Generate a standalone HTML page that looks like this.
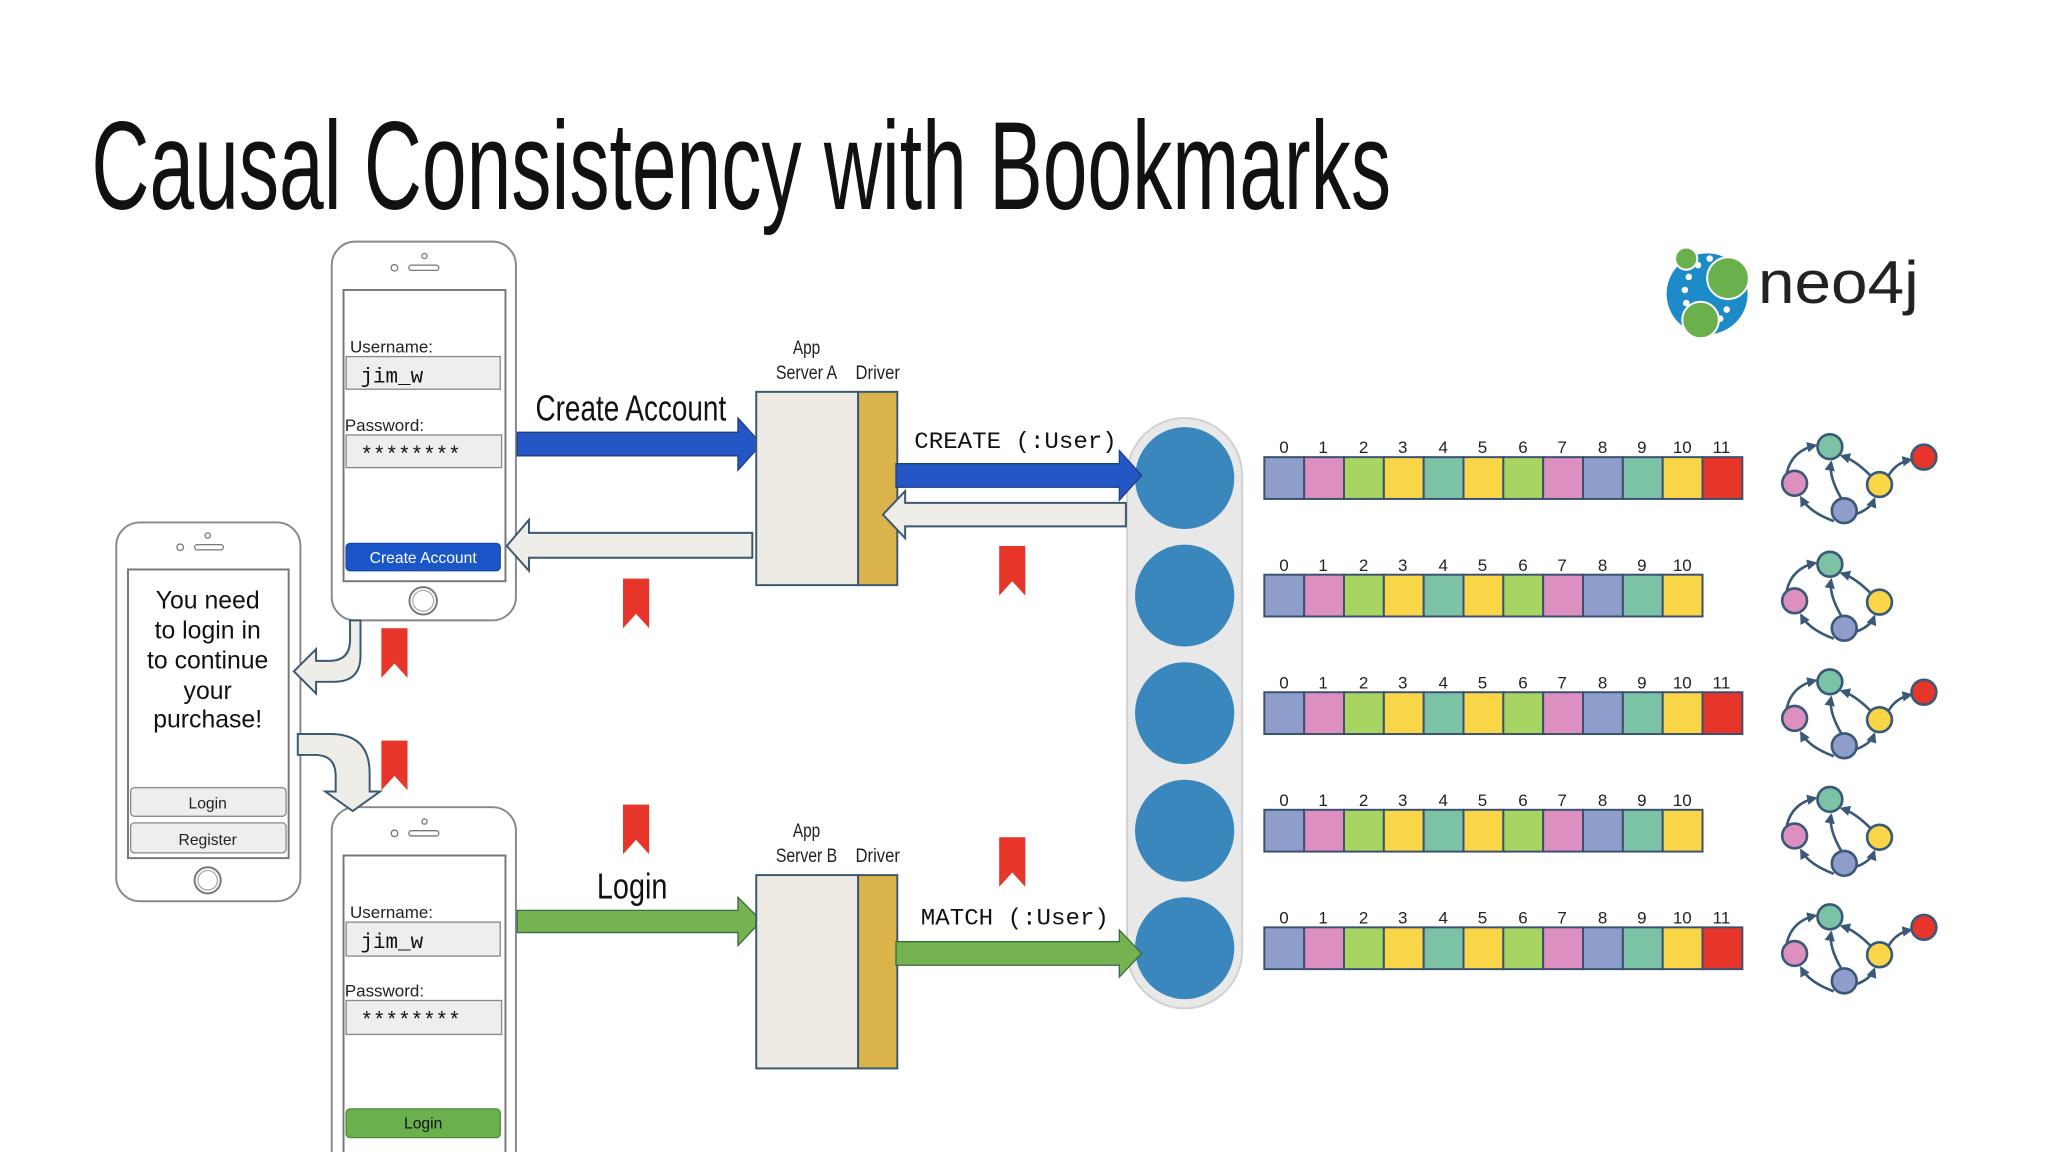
<!DOCTYPE html>
<html><head><meta charset="utf-8"><style>
html,body{margin:0;padding:0;background:#fff;width:2048px;height:1152px;overflow:hidden}
svg{display:block}
.c{font-family:"Liberation Sans Narrow","Liberation Sans",sans-serif}
.s{font-family:"Liberation Sans",sans-serif}
.m{font-family:"Liberation Mono",monospace}
.n{font-family:"Liberation Sans Narrow","Liberation Sans",sans-serif;font-size:13px;fill:#222;text-anchor:middle}
</style></head><body>
<svg width="2048" height="1152" viewBox="0 0 1568 882" xmlns="http://www.w3.org/2000/svg">
<defs>
<g id="bm"><path d="M0 0h20v38l-10-11l-10 11z" fill="#e8352a"/></g>
<marker id="ah" viewBox="0 0 10 10" refX="8" refY="5" markerWidth="4" markerHeight="4" orient="auto"><path d="M0 0L10 5L0 10z" fill="#3a5878"/></marker>
<g id="gr" stroke="#3a5878" stroke-width="2" fill="none">
<path d="M1368 362 Q1372 345 1390 341" marker-end="url(#ah)"/><path d="M1404 399 Q1385 392 1379 381" marker-end="url(#ah)"/>
<path d="M1420 394 Q1432 390 1435 382" marker-end="url(#ah)"/><path d="M1432 364 Q1420 352 1410 349" marker-end="url(#ah)"/>
<path d="M1410 382 Q1400 365 1402 354" marker-end="url(#ah)"/>
<circle cx="1401" cy="342" r="9.5" fill="#7cc2a4"/><circle cx="1374" cy="370" r="9.5" fill="#dd8fc0"/>
<circle cx="1439" cy="371" r="9.5" fill="#f8d648"/><circle cx="1412" cy="391" r="9.5" fill="#8e9dc9"/>
</g>
<g id="red"><path d="M1446 364 Q1452 354 1463 352" stroke="#3a5878" stroke-width="2" fill="none" marker-end="url(#ah)"/><circle cx="1473" cy="350" r="9.5" fill="#e8352a" stroke="#3a5878" stroke-width="2"/></g>
<g id="row11" stroke="#3a5070" stroke-width="1.5">
<rect x="968" y="0" width="30.5" height="32" fill="#8e9dc9"/><rect x="998.5" y="0" width="30.5" height="32" fill="#dd8fc0"/>
<rect x="1029" y="0" width="30.5" height="32" fill="#a8d462"/><rect x="1059.5" y="0" width="30.5" height="32" fill="#f8d648"/>
<rect x="1090" y="0" width="30.5" height="32" fill="#7cc2a4"/><rect x="1120.5" y="0" width="30.5" height="32" fill="#f8d648"/>
<rect x="1151" y="0" width="30.5" height="32" fill="#a8d462"/><rect x="1181.5" y="0" width="30.5" height="32" fill="#dd8fc0"/>
<rect x="1212" y="0" width="30.5" height="32" fill="#8e9dc9"/><rect x="1242.5" y="0" width="30.5" height="32" fill="#7cc2a4"/>
<rect x="1273" y="0" width="30.5" height="32" fill="#f8d648"/>
</g>
<g id="row12"><use href="#row11"/><rect x="1303.5" y="0" width="30.5" height="32" fill="#e8352a" stroke="#3a5070" stroke-width="1.5"/></g>
</defs>

<text x="70" y="160" class="c" font-size="96" textLength="995" lengthAdjust="spacingAndGlyphs" fill="#111">Causal Consistency with Bookmarks</text>

<!-- neo4j logo -->
<circle cx="1307" cy="225" r="31" fill="#1c8bc8"/>
<g fill="#fff"><circle cx="1300" cy="203" r="2.5"/><circle cx="1293" cy="212" r="2.5"/><circle cx="1290" cy="222" r="2.5"/><circle cx="1291" cy="232" r="2.5"/><circle cx="1295" cy="241" r="2.5"/><circle cx="1322" cy="237" r="2.5"/><circle cx="1317" cy="244" r="2.5"/><circle cx="1309" cy="198" r="2.5"/></g>
<circle cx="1291" cy="198" r="8.5" fill="#6ab04c" stroke="#fff" stroke-width="1.5"/>
<circle cx="1323" cy="213" r="16" fill="#6ab04c" stroke="#fff" stroke-width="1.5"/>
<circle cx="1302" cy="245" r="14" fill="#6ab04c" stroke="#fff" stroke-width="1.5"/>
<text x="1346" y="232" class="s" font-size="46" textLength="123" lengthAdjust="spacingAndGlyphs" fill="#222">neo4j</text>

<!-- top phone -->
<rect x="254" y="185" width="141" height="290" rx="18" fill="#fff" stroke="#888" stroke-width="1.5"/>
<circle cx="325" cy="196" r="2" fill="none" stroke="#777"/><circle cx="302" cy="205" r="2.5" fill="none" stroke="#777"/>
<rect x="313" y="203" width="23" height="4" rx="2" fill="none" stroke="#777"/>
<rect x="263" y="222" width="124" height="223" fill="#fff" stroke="#777" stroke-width="1.5"/>
<text x="268" y="270" class="s" font-size="13" fill="#222">Username:</text>
<rect x="265" y="273" width="118" height="25" fill="#eee" stroke="#888"/>
<text x="276" y="293" class="m" font-size="16" fill="#111">jim_w</text>
<text x="264" y="330" class="s" font-size="13" fill="#222">Password:</text>
<rect x="265" y="333" width="119" height="25" fill="#eee" stroke="#888"/>
<text x="276" y="353" class="m" font-size="16" fill="#111">********</text>
<rect x="265" y="416" width="118" height="21" rx="3" fill="#1a56c8" stroke="#184aa0"/>
<text x="324" y="431" class="s" font-size="12" fill="#fff" text-anchor="middle">Create Account</text>
<circle cx="324" cy="460" r="10.5" fill="none" stroke="#777" stroke-width="1.5"/><circle cx="324" cy="460" r="8" fill="none" stroke="#aaa"/>

<!-- left phone -->
<rect x="89" y="400" width="141" height="290" rx="18" fill="#fff" stroke="#888" stroke-width="1.5"/>
<circle cx="159" cy="410" r="2" fill="none" stroke="#777"/><circle cx="138" cy="419" r="2.5" fill="none" stroke="#777"/>
<rect x="149" y="417" width="22" height="4" rx="2" fill="none" stroke="#777"/>
<rect x="98" y="436" width="123" height="221" fill="#fff" stroke="#777" stroke-width="1.5"/>
<g class="s" font-size="19" fill="#111" text-anchor="middle">
<text x="159" y="466">You need</text><text x="159" y="489">to login in</text><text x="159" y="512">to continue</text><text x="159" y="535">your</text><text x="159" y="557">purchase!</text></g>
<rect x="100" y="603" width="119" height="22" rx="3" fill="#eee" stroke="#888"/>
<text x="159" y="619" class="s" font-size="12" text-anchor="middle" fill="#222">Login</text>
<rect x="100" y="630" width="119" height="23" rx="3" fill="#eee" stroke="#888"/>
<text x="159" y="647" class="s" font-size="12" text-anchor="middle" fill="#222">Register</text>
<circle cx="159" cy="674" r="10" fill="none" stroke="#777" stroke-width="1.5"/><circle cx="159" cy="674" r="7.5" fill="none" stroke="#aaa"/>

<!-- bottom phone -->
<path d="M254 884V636a18 18 0 0 1 18-18h105a18 18 0 0 1 18 18V884" fill="#fff" stroke="#888" stroke-width="1.5"/>
<circle cx="325" cy="629" r="2" fill="none" stroke="#777"/><circle cx="302" cy="638" r="2.5" fill="none" stroke="#777"/>
<rect x="313" y="636" width="23" height="4" rx="2" fill="none" stroke="#777"/>
<path d="M263 884V655h124V884" fill="#fff" stroke="#777" stroke-width="1.5"/>
<text x="268" y="703" class="s" font-size="13" fill="#222">Username:</text>
<rect x="265" y="706" width="118" height="26" fill="#eee" stroke="#888"/>
<text x="276" y="726" class="m" font-size="16" fill="#111">jim_w</text>
<text x="264" y="763" class="s" font-size="13" fill="#222">Password:</text>
<rect x="265" y="766" width="119" height="26" fill="#eee" stroke="#888"/>
<text x="276" y="786" class="m" font-size="16" fill="#111">********</text>
<rect x="265" y="849" width="118" height="22" rx="3" fill="#6ab04c" stroke="#4f8a36"/>
<text x="324" y="864" class="s" font-size="12" fill="#111" text-anchor="middle">Login</text>

<!-- curved arrows -->
<path d="M268 475v15q0 16-16 16h-10v-9l-17 17l17 17v-9h14q20 0 20-20v-27z" fill="#eeede8" stroke="#3a5870" stroke-width="1.5"/>
<path d="M228 562h25q30 0 30 30v14h8l-21 15l-21-15h8v-12q0-16-16-16h-13z" fill="#eeede8" stroke="#3a5870" stroke-width="1.5"/>

<!-- bookmarks -->
<use href="#bm" x="292" y="481"/><use href="#bm" x="292" y="567"/>
<use href="#bm" x="477" y="443"/><use href="#bm" x="477" y="616"/>
<use href="#bm" x="765" y="418"/><use href="#bm" x="765" y="641"/>

<!-- create account arrows -->
<text x="410" y="322" class="c" font-size="28" textLength="146" lengthAdjust="spacingAndGlyphs" fill="#111">Create Account</text>
<path d="M396 331h169v-11l18 20l-18 20v-11h-169z" fill="#2457c5" stroke="#1d3f80" stroke-width="1"/>
<path d="M576 408h-171v-10l-17 20l17 19v-10h171z" fill="#eeede8" stroke="#3a5870" stroke-width="1.5"/>

<!-- app server A -->
<text x="607" y="271" class="c" font-size="15" textLength="21" lengthAdjust="spacingAndGlyphs" fill="#222">App</text>
<text x="594" y="290" class="c" font-size="15" textLength="47" lengthAdjust="spacingAndGlyphs" fill="#222">Server A</text>
<text x="655" y="290" class="c" font-size="15" textLength="34" lengthAdjust="spacingAndGlyphs" fill="#222">Driver</text>
<rect x="579" y="300" width="78" height="148" fill="#eeebe5" stroke="#3a5870" stroke-width="1.5"/>
<rect x="657" y="300" width="30" height="148" fill="#dab44a" stroke="#3a5870" stroke-width="1.5"/>

<!-- cluster -->
<rect x="863" y="320" width="88" height="452" rx="44" fill="#e8e8e8" stroke="#d0d0d0" stroke-width="1.5"/>
<g fill="#3a87bd"><ellipse cx="907" cy="366" rx="38" ry="39"/><ellipse cx="907" cy="456" rx="38" ry="39"/><ellipse cx="907" cy="546" rx="38" ry="39"/><ellipse cx="907" cy="636" rx="38" ry="39"/><ellipse cx="907" cy="726" rx="38" ry="39"/></g>

<text x="700" y="343" class="m" font-size="18" fill="#111" textLength="155" lengthAdjust="spacingAndGlyphs">CREATE (:User)</text>
<path d="M686 355h171v-10l17 19l-17 19v-10h-171z" fill="#2457c5" stroke="#1d3f80" stroke-width="1"/>
<path d="M862 385h-169v-9l-17 18l17 18v-9h169z" fill="#eeede8" stroke="#3a5870" stroke-width="1.5"/>

<!-- login arrows -->
<text x="457" y="688" class="c" font-size="28" textLength="54" lengthAdjust="spacingAndGlyphs" fill="#111">Login</text>
<path d="M396 697h169v-10l18 18l-18 19v-10h-169z" fill="#74b350" stroke="#3a6a40" stroke-width="1"/>
<text x="607" y="641" class="c" font-size="15" textLength="21" lengthAdjust="spacingAndGlyphs" fill="#222">App</text>
<text x="594" y="660" class="c" font-size="15" textLength="47" lengthAdjust="spacingAndGlyphs" fill="#222">Server B</text>
<text x="655" y="660" class="c" font-size="15" textLength="34" lengthAdjust="spacingAndGlyphs" fill="#222">Driver</text>
<rect x="579" y="670" width="78" height="148" fill="#eeebe5" stroke="#3a5870" stroke-width="1.5"/>
<rect x="657" y="670" width="30" height="148" fill="#dab44a" stroke="#3a5870" stroke-width="1.5"/>
<text x="705" y="708" class="m" font-size="18" fill="#111" textLength="144" lengthAdjust="spacingAndGlyphs">MATCH (:User)</text>
<path d="M686 721h171v-9l17 18l-17 18v-9h-171z" fill="#74b350" stroke="#3a6a40" stroke-width="1"/>

<!-- arrays -->
<use href="#row12" y="350"/><use href="#row11" y="440"/><use href="#row12" y="530"/><use href="#row11" y="620"/><use href="#row12" y="710"/>
<g class="n">
<text x="983" y="347">0</text><text x="1013" y="347">1</text><text x="1044" y="347">2</text><text x="1074" y="347">3</text><text x="1105" y="347">4</text><text x="1135" y="347">5</text><text x="1166" y="347">6</text><text x="1196" y="347">7</text><text x="1227" y="347">8</text><text x="1257" y="347">9</text><text x="1288" y="347">10</text><text x="1318" y="347">11</text>
<text x="983" y="437">0</text><text x="1013" y="437">1</text><text x="1044" y="437">2</text><text x="1074" y="437">3</text><text x="1105" y="437">4</text><text x="1135" y="437">5</text><text x="1166" y="437">6</text><text x="1196" y="437">7</text><text x="1227" y="437">8</text><text x="1257" y="437">9</text><text x="1288" y="437">10</text>
<text x="983" y="527">0</text><text x="1013" y="527">1</text><text x="1044" y="527">2</text><text x="1074" y="527">3</text><text x="1105" y="527">4</text><text x="1135" y="527">5</text><text x="1166" y="527">6</text><text x="1196" y="527">7</text><text x="1227" y="527">8</text><text x="1257" y="527">9</text><text x="1288" y="527">10</text><text x="1318" y="527">11</text>
<text x="983" y="617">0</text><text x="1013" y="617">1</text><text x="1044" y="617">2</text><text x="1074" y="617">3</text><text x="1105" y="617">4</text><text x="1135" y="617">5</text><text x="1166" y="617">6</text><text x="1196" y="617">7</text><text x="1227" y="617">8</text><text x="1257" y="617">9</text><text x="1288" y="617">10</text>
<text x="983" y="707">0</text><text x="1013" y="707">1</text><text x="1044" y="707">2</text><text x="1074" y="707">3</text><text x="1105" y="707">4</text><text x="1135" y="707">5</text><text x="1166" y="707">6</text><text x="1196" y="707">7</text><text x="1227" y="707">8</text><text x="1257" y="707">9</text><text x="1288" y="707">10</text><text x="1318" y="707">11</text>
</g>

<!-- graphs -->
<use href="#gr"/><use href="#red"/>
<use href="#gr" y="90"/>
<use href="#gr" y="180"/><use href="#red" y="180"/>
<use href="#gr" y="270"/>
<use href="#gr" y="360"/><use href="#red" y="360"/>
</svg>
</body></html>
